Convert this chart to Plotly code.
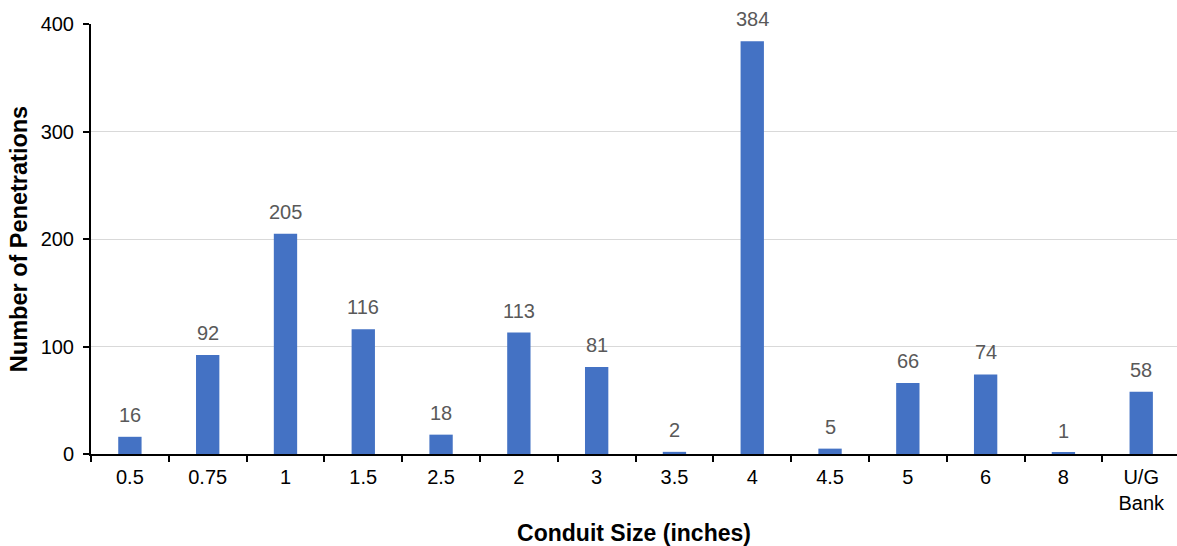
import plotly.graph_objects as go

# Conduit sizes and penetration counts
sizes = ["0.5", "0.75", "1", "1.5", "2.5", "2", "3", "3.5", "4", "4.5", "5", "6", "8", "U/G<br>Bank"]
penetrations = [16, 92, 205, 116, 18, 113, 81, 2, 384, 5, 66, 74, 1, 58]
y_ticks = [0, 100, 200, 300, 400]

FONT = "Liberation Sans, Arial, sans-serif"

fig = go.Figure(
    go.Bar(
        x=sizes,
        y=penetrations,
        marker=dict(color="#4472C4", line=dict(width=0)),
        width=0.3,
        cliponaxis=False,
    )
)

# value labels sitting above each bar (positioned by category index,
# since several category names look numeric)
for idx, val in enumerate(penetrations):
    fig.add_annotation(
        x=idx,
        y=val,
        xref="x",
        yref="y",
        text=str(val),
        showarrow=False,
        yanchor="bottom",
        yshift=9,
        font=dict(family=FONT, size=20, color="#595959"),
    )

fig.update_layout(
    width=1177,
    height=546,
    margin=dict(l=91, r=0, t=24, b=92),
    paper_bgcolor="white",
    plot_bgcolor="white",
    showlegend=False,
    font=dict(family=FONT, size=20, color="#000000"),
    xaxis=dict(
        type="category",
        range=[-0.5, 13.46],
        tickson="boundaries",
        ticks="outside",
        ticklen=6,
        tickwidth=2,
        tickcolor="#000000",
        showline=True,
        linecolor="#000000",
        linewidth=2,
        ticklabelstandoff=4,
        tickfont=dict(size=20, color="#000000"),
        title=dict(
            text="<b>Conduit Size (inches)</b>",
            font=dict(size=23, color="#000000"),
            standoff=12,
        ),
    ),
    yaxis=dict(
        range=[0, 400],
        tickvals=y_ticks,
        ticks="outside",
        ticklen=6,
        tickwidth=2,
        tickcolor="#000000",
        showline=True,
        linecolor="#000000",
        linewidth=2,
        ticklabelstandoff=5,
        showgrid=True,
        gridcolor="#D9D9D9",
        gridwidth=1,
        zeroline=False,
        tickfont=dict(size=20, color="#000000"),
        title=dict(
            text="<b>Number of Penetrations</b>",
            font=dict(size=23.5, color="#000000"),
            standoff=6,
        ),
    ),
)

fig.write_html("out.html")
